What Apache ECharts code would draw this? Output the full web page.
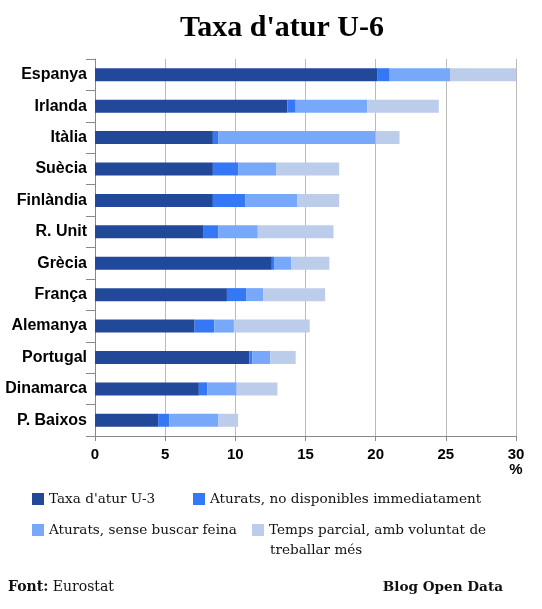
<!DOCTYPE html>
<html><head><meta charset="utf-8">
<script src="https://cdn.jsdelivr.net/npm/echarts@6/dist/echarts.min.js"></script>
<style>html,body{margin:0;padding:0;background:#fff}#c{width:542px;height:609px}</style>
</head><body><div id="c"></div>
<script>
const categories = ['Espanya','Irlanda','Itàlia','Suècia','Finlàndia','R. Unit','Grècia','França','Alemanya','Portugal','Dinamarca','P. Baixos'];
const seriesNames = ["Taxa d'atur U-3", 'Aturats, no disponibles immediatament', 'Aturats, sense buscar feina', 'Temps parcial, amb voluntat de treballar més'];
const u3        = [20.1, 13.7, 8.4, 8.4, 8.4, 7.7, 12.6, 9.4, 7.1, 11.0, 7.4, 4.5];
const noDisp    = [0.9, 0.6, 0.4, 1.8, 2.3, 1.1, 0.2, 1.4, 1.4, 0.2, 0.6, 0.8];
const senseBusc = [4.3, 5.1, 11.2, 2.7, 3.7, 2.8, 1.2, 1.2, 1.4, 1.3, 2.1, 3.5];
const parcial   = [4.9, 5.1, 1.7, 4.5, 3.0, 5.4, 2.7, 4.4, 5.4, 1.8, 2.9, 1.4];
const xTicks = [0, 5, 10, 15, 20, 25, 30];
const colors = ['#22489a', '#3478f6', '#78a8fa', '#bccdec'];

const chart = echarts.init(document.getElementById('c'), null, {renderer: 'canvas'});
const values = [u3, noDisp, senseBusc, parcial];
const legendFont = {fontFamily: 'DejaVu Serif', fontSize: 13.6, color: '#111'};
function legendAt(i, left, top, extra) {
  return Object.assign({
    data: [seriesNames[i]], left: left, top: top, orient: 'horizontal',
    itemWidth: 12, itemHeight: 12, icon: 'rect', padding: 0,
    selectedMode: false, textStyle: Object.assign({}, legendFont)
  }, extra || {});
}
chart.setOption({
  animation: false,
  color: colors,
  title: [
    {text: "Taxa d'atur U-6", left: 175, top: 8,
     textStyle: {fontFamily: 'Liberation Serif', fontWeight: 'bold', fontSize: 30, color: '#000'}},
    {text: '{b|Font:} Eurostat', left: 3, top: 575,
     textStyle: {fontFamily: 'DejaVu Serif', fontWeight: 'normal', fontSize: 14, color: '#111',
       rich: {b: {fontFamily: 'DejaVu Serif', fontWeight: 'bold', fontSize: 14, color: '#111'}}}},
    {text: 'Blog Open Data', right: 34, top: 575,
     textStyle: {fontFamily: 'DejaVu Serif', fontWeight: 'bold', fontSize: 13.6, color: '#111'}}
  ],
  legend: [
    legendAt(0, 32, 492),
    legendAt(1, 193, 492),
    legendAt(2, 32, 523),
    legendAt(3, 252, 523, {formatter: () => 'Temps parcial, amb voluntat de'})
  ],
  graphic: [
    {type: 'text', left: 270, top: 543,
     style: {text: 'treballar més', fontFamily: 'DejaVu Serif', fontSize: 13.6, fill: '#111'}}
  ],
  grid: {left: 95, right: 26, top: 59, bottom: 173, containLabel: false},
  xAxis: {
    type: 'value', min: xTicks[0], max: xTicks[xTicks.length - 1], interval: 5,
    axisLine: {show: true, lineStyle: {color: '#888', width: 1}},
    axisTick: {show: true, length: 5, lineStyle: {color: '#888'}},
    splitLine: {show: true, lineStyle: {color: '#bbb', width: 1}},
    axisLabel: {
      margin: 11, color: '#000', fontFamily: 'Liberation Sans', fontWeight: 'bold', fontSize: 15,
      lineHeight: 15, verticalAlign: 'top',
      formatter: v => v === 30 ? '30\n%' : String(v)
    }
  },
  yAxis: {
    type: 'category', data: categories, inverse: true,
    axisLine: {show: true, lineStyle: {color: '#888', width: 1}},
    axisTick: {show: true, length: 9, lineStyle: {color: '#888'}},
    axisLabel: {margin: 8, color: '#000', fontFamily: 'Liberation Sans', fontWeight: 'bold', fontSize: 16}
  },
  series: values.map((v, i) => ({
    name: seriesNames[i], type: 'bar', stack: 'total', data: v,
    barWidth: 13, itemStyle: {color: colors[i]}
  }))
});
</script></body></html>
